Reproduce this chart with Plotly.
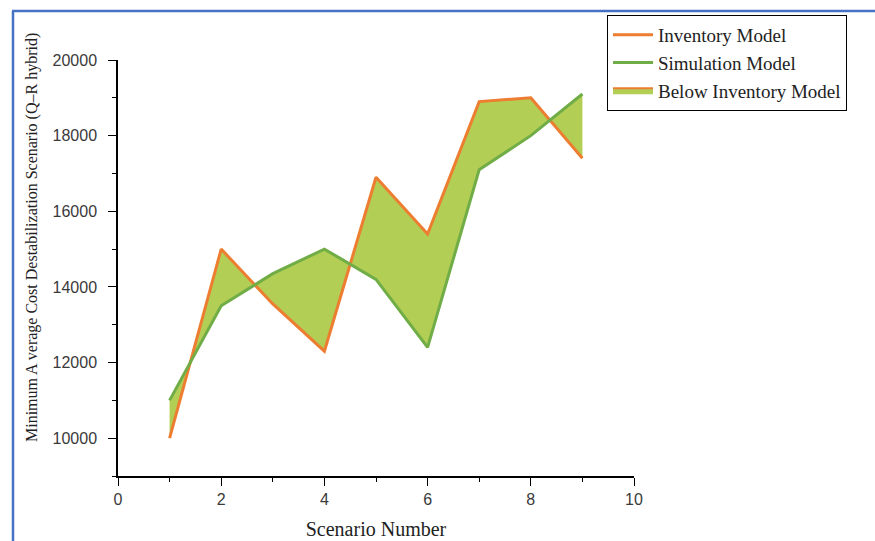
import plotly.graph_objects as go

# Scenario data
scenarios = [1, 2, 3, 4, 5, 6, 7, 8, 9]
inventory_model = [10000, 15000, 13550, 12300, 16900, 15400, 18900, 19000, 17400]
simulation_model = [11000, 13500, 14350, 15000, 14200, 12400, 17100, 18000, 19100]

ORANGE = "#ED7D31"
GREEN = "#70AD47"
FILL = "#B2CE55"
SERIF = "Liberation Serif"
SANS = "Liberation Sans"

W, H = 875, 541
L, R, T, B = 118, 241, 60, 65
PW, PH = W - L - R, H - T - B


def px_x(px):
    return (px - L) / PW


def px_y(py):
    return (H - B - py) / PH


fig = go.Figure()

# shaded band between the two models
fig.add_trace(go.Scatter(
    x=scenarios + scenarios[::-1],
    y=inventory_model + simulation_model[::-1],
    fill="toself", fillcolor=FILL, mode="lines",
    line=dict(width=0), showlegend=False, hoverinfo="skip",
))

fig.add_trace(go.Scatter(
    x=scenarios, y=inventory_model, mode="lines", name="Inventory Model",
    line=dict(color=ORANGE, width=3), legendrank=1,
))
fig.add_trace(go.Scatter(
    x=scenarios, y=simulation_model, mode="lines", name="Simulation Model",
    line=dict(color=GREEN, width=3), legendrank=2,
))
# legend entry for the shaded band
fig.add_trace(go.Scatter(
    x=[None], y=[None], mode="lines", fill="toself", fillcolor=FILL,
    line=dict(color=ORANGE, width=2), name="Below Inventory Model",
    legendrank=3,
))

axis_common = dict(
    showline=True, linecolor="black", linewidth=1.5, mirror=False,
    showgrid=False, zeroline=False, ticks="outside", ticklen=8,
    tickcolor="black", tickwidth=1.2,
    tickfont=dict(family=SANS, size=16, color="#3a3a3a"),
)

fig.update_xaxes(
    range=[0, 10], dtick=2, tick0=0,
    minor=dict(dtick=1, ticks="outside", ticklen=4, tickcolor="black"),
    title=dict(text="Scenario Number", font=dict(family=SERIF, size=20, color="#222"),
               standoff=15),
    **axis_common,
)
fig.update_yaxes(
    range=[9000, 20000], tickvals=[10000, 12000, 14000, 16000, 18000, 20000],
    tickformat="d",
    minor=dict(tickvals=[9000, 11000, 13000, 15000, 17000, 19000],
               ticks="outside", ticklen=4, tickcolor="black"),
    ticklabelstandoff=8,
    **axis_common,
)

# vertical axis title, set a little above the plot's centre line
fig.add_annotation(
    text="Minimum A verage Cost Destabilization Scenario (Q\u2013R hybrid)",
    xref="paper", yref="paper", x=px_x(32), y=px_y(238),
    xanchor="center", yanchor="middle", textangle=-90, showarrow=False,
    font=dict(family=SERIF, size=16, color="#222"),
)

# frame around the figure (top and left edges)
fig.add_shape(type="line", xref="paper", yref="paper",
              x0=px_x(13), x1=px_x(13), y0=px_y(H + 5), y1=px_y(11),
              line=dict(color="#4472C4", width=2.5))
fig.add_shape(type="line", xref="paper", yref="paper",
              x0=px_x(12), x1=px_x(W + 5), y0=px_y(11), y1=px_y(11),
              line=dict(color="#4472C4", width=2.5))

fig.update_layout(
    width=W, height=H,
    margin=dict(l=L, r=R, t=T, b=B, autoexpand=False),
    paper_bgcolor="white", plot_bgcolor="white",
    legend=dict(
        x=px_x(607), y=px_y(15), xanchor="left", yanchor="top",
        bordercolor="black", borderwidth=1, bgcolor="white",
        font=dict(family=SERIF, size=19, color="#222"),
        tracegroupgap=0, itemwidth=40,
    ),
    showlegend=True,
)

fig.write_html("out.html")
